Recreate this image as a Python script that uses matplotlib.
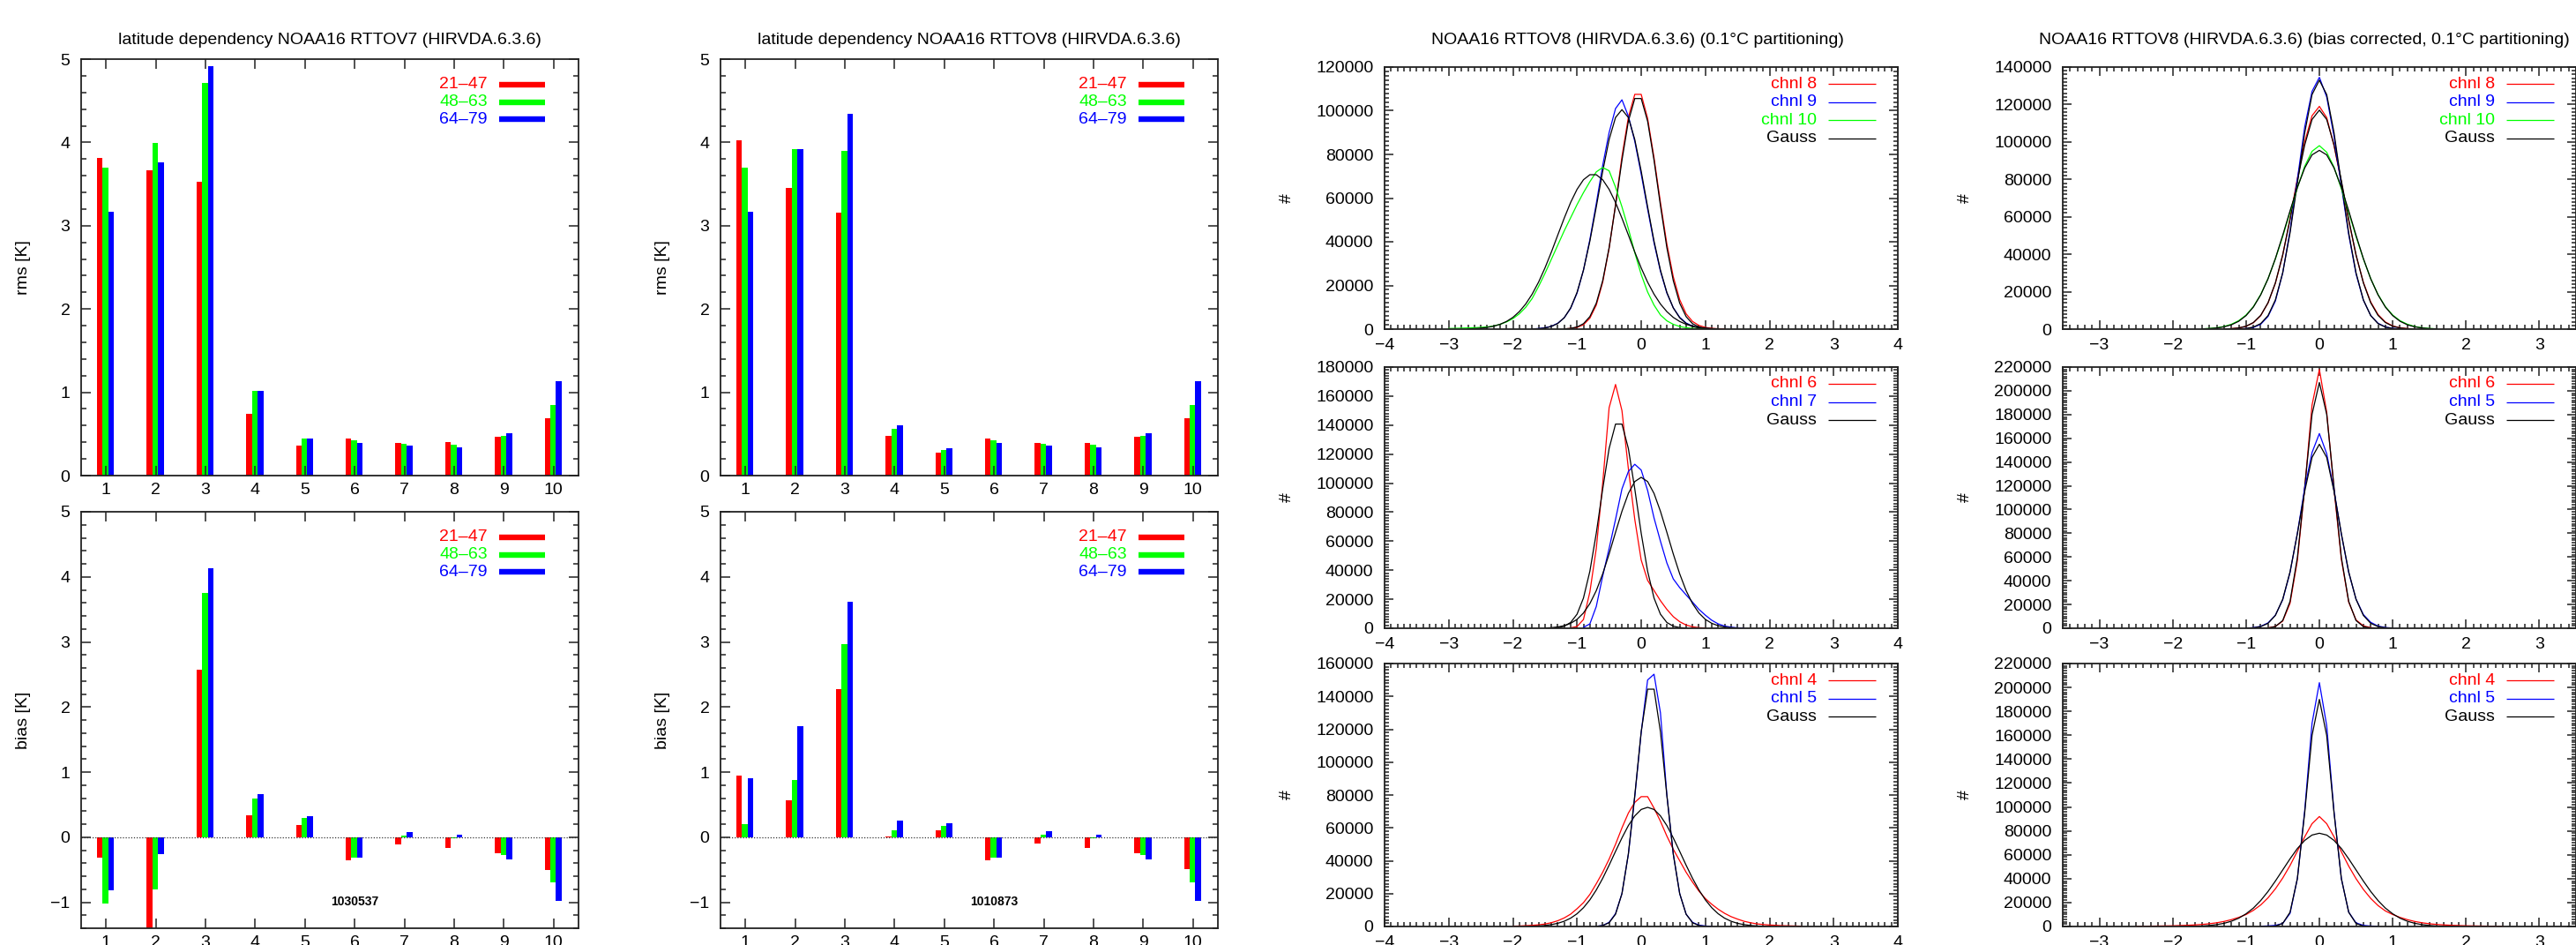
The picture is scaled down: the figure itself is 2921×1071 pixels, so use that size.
import numpy as np
import matplotlib
matplotlib.use("Agg")
import matplotlib.pyplot as plt
from matplotlib.ticker import MultipleLocator, AutoMinorLocator

plt.rcParams['font.family'] = ['Liberation Sans', 'DejaVu Sans']

# ---------------- bar chart data (latitude dependency) ----------------
channels = [1, 2, 3, 4, 5, 6, 7, 8, 9, 10]
lat_bands = ['21\u201347', '48\u201363', '64\u201379']

rms7_21 = [3.81, 3.67, 3.53, 0.745, 0.355, 0.44, 0.39, 0.40, 0.465, 0.688]
rms7_48 = [3.70, 3.99, 4.71, 1.02, 0.44, 0.427, 0.38, 0.374, 0.476, 0.846]
rms7_64 = [3.17, 3.76, 4.92, 1.02, 0.446, 0.397, 0.355, 0.336, 0.506, 1.134]

bias7_21 = [-0.32, -1.5, 2.57, 0.334, 0.19, -0.35, -0.11, -0.17, -0.25, -0.50]
bias7_48 = [-1.02, -0.80, 3.75, 0.60, 0.29, -0.32, 0.03, -0.02, -0.28, -0.69]
bias7_64 = [-0.82, -0.26, 4.13, 0.66, 0.316, -0.31, 0.08, 0.04, -0.34, -0.98]

rms8_21 = [4.03, 3.45, 3.16, 0.476, 0.276, 0.44, 0.39, 0.397, 0.465, 0.688]
rms8_48 = [3.70, 3.92, 3.90, 0.563, 0.31, 0.427, 0.38, 0.374, 0.476, 0.846]
rms8_64 = [3.17, 3.92, 4.34, 0.60, 0.33, 0.397, 0.355, 0.336, 0.506, 1.134]

bias8_21 = [0.95, 0.56, 2.27, 0.005, 0.105, -0.35, -0.10, -0.16, -0.25, -0.49]
bias8_48 = [0.20, 0.88, 2.96, 0.11, 0.17, -0.32, 0.04, -0.02, -0.28, -0.69]
bias8_64 = [0.90, 1.70, 3.62, 0.26, 0.21, -0.31, 0.09, 0.04, -0.34, -0.98]

obs_count7 = '1030537'
obs_count8 = '1010873'

# ---------------- histogram data (0.1 K bins) ----------------
# each series: first bin centre, then counts per 0.1 bin
# uncorrected, channels 8/9/10
c8_start, c8_obs = -1.2, [100, 300, 800, 2000, 5000, 11000, 21500, 37000, 57000, 79000, 97000,
                          107500, 107500, 96500, 78500, 58000, 39000, 24000, 13500, 7000, 3500,
                          1700, 800, 350, 150, 60]
c8g_start, c8_gauss = -1.2, [110, 345, 977, 2490, 5730, 11880, 22200, 37300, 56600, 77300, 95200,
                             105600, 105600, 95200, 77300, 56600, 37300, 22200, 11880, 5730, 2490,
                             977, 345, 110]
c9_start, c9_obs = -1.7, [100, 250, 600, 1300, 2700, 5200, 9500, 16500, 27000, 41000, 57500, 75000,
                          90000, 101000, 105000, 97500, 86000, 71000, 55000, 39500, 26500, 16500,
                          9800, 5400, 2800, 1400, 650, 280, 110]
c9g_start, c9_gauss = -1.7, [80, 210, 520, 1210, 2600, 5200, 9700, 16800, 27000, 40300, 56000,
                             72300, 86800, 96900, 100500, 96900, 86800, 72300, 56000, 40300, 27000,
                             16800, 9700, 5200, 2600, 1210, 520, 210, 80]
c10_start, c10_obs = -3.0, [300, 350, 450, 550, 650, 800, 1000, 1400, 2200, 3300, 4800, 7000, 10000,
                            14000, 19500, 25500, 32000, 38500, 45000, 51000, 57000, 62500, 67500,
                            72000, 74000, 72500, 65000, 56000, 46000, 35000, 25000, 17000, 11000,
                            6500, 3800, 2200, 1200, 650, 330, 160, 80]
c10g_start, c10_gauss = -2.7, [130, 250, 450, 790, 1340, 2200, 3500, 5370, 8000, 11500, 16000,
                               21500, 28000, 35300, 43100, 50800, 58000, 64000, 68400, 70700,
                               70700, 68400, 64000, 58000, 50800, 43100, 35300, 28000, 21500, 16000,
                               11500, 8000, 5370, 3500, 2200, 1340, 790, 450, 250, 130]
# uncorrected, channels 6/7
c6_start, c6_obs = -1.1, [300, 1200, 6000, 25000, 55000, 100000, 152000, 168000, 150000, 110000,
                          75000, 47000, 33000, 26000, 19000, 13000, 8000, 4500, 2200, 1000, 400, 150]
c6g_start, c6_gauss = -1.4, [130, 450, 1430, 3960, 9670, 20800, 39300, 65500, 96000, 123900,
                             140700, 140700, 123900, 96000, 65500, 39300, 20800, 9670, 3960, 1430,
                             450, 130]
c7_start, c7_obs = -0.9, [600, 3000, 15000, 36000, 55000, 75000, 96000, 108000, 113000, 109000,
                          95000, 76000, 60000, 45000, 34000, 28000, 23000, 18000, 13000, 9000, 5500,
                          3000, 1500, 700, 300, 100]
c7g_start, c7_gauss = -1.5, [177, 400, 860, 1750, 3370, 6100, 10500, 17000, 25900, 37500, 51200,
                             66100, 80600, 92900, 101100, 104000, 101100, 92900, 80600, 66100,
                             51200, 37500, 25900, 17000, 10500, 6100, 3370, 1750, 860, 400, 177]
# uncorrected, channels 4/5
c4_start, c4_obs = -2.0, [200, 300, 500, 700, 1000, 1500, 2300, 3500, 5200, 7500, 10800, 14500,
                          19500, 26000, 33000, 41000, 50000, 60000, 69000, 75500, 79000, 79000,
                          72000, 64000, 55000, 47000, 40000, 33000, 27000, 21500, 17000, 13500,
                          10500, 8000, 6000, 4500, 3200, 2300, 1600, 1200, 900, 700, 500, 400,
                          300, 200]
c4g_start, c4_gauss = -1.8, [90, 180, 350, 640, 1130, 1930, 3180, 5050, 7740, 11400, 16200, 22200,
                             29300, 37300, 45700, 53900, 61400, 67300, 71200, 72500, 71200, 67300,
                             61400, 53900, 45700, 37300, 29300, 22200, 16200, 11400, 7740, 5050,
                             3180, 1930, 1130, 640, 350, 180, 90]
c5_start, c5_obs = -0.7, [100, 600, 2500, 7800, 20000, 44000, 79000, 118000, 150000, 153500,
                          130000, 80000, 44000, 20000, 7500, 2500, 800, 300, 100]
c5g_start, c5_gauss = -0.7, [120, 570, 2280, 7460, 20000, 44100, 79800, 118500, 144400, 144400,
                             118500, 79800, 44100, 20000, 7460, 2280, 570, 120]

# bias corrected, channels 8/9/10
b8_start, b8_obs = -1.3, [100, 250, 600, 1500, 3400, 7200, 14000, 24500, 39500, 59000, 80500,
                          100000, 114000, 119000, 113000, 98000, 78500, 58000, 39500, 25000, 14500,
                          7800, 3800, 1700, 700, 280, 100]
b8g_start, b8_gauss = -1.3, [80, 230, 620, 1550, 3520, 7350, 14100, 24700, 39700, 58600, 79300,
                             98400, 112000, 117000, 112000, 98400, 79300, 58600, 39700, 24700,
                             14100, 7350, 3520, 1550, 620, 230, 80]
b9_start, b9_obs = -1.1, [100, 300, 900, 2600, 6800, 15000, 30000, 52500, 80000, 108000, 127000,
                          134500, 124000, 103000, 76500, 50500, 29500, 15500, 7300, 3100, 1200,
                          400, 120]
b9g_start, b9_gauss = -1.1, [100, 350, 1080, 2960, 7220, 15600, 30100, 51400, 77900, 104900,
                             125300, 133000, 125300, 104900, 77900, 51400, 30100, 15600, 7220,
                             2960, 1080, 350, 100]
b10_start, b10_obs = -1.6, [150, 350, 700, 1400, 2600, 4500, 7500, 12000, 18500, 27000, 37500,
                            49500, 62500, 75500, 87000, 95000, 98000, 94500, 86500, 75000, 62500,
                            49500, 37500, 27000, 18500, 12000, 7500, 4500, 2600, 1400, 700, 350, 150]
b10g_start, b10_gauss = -1.6, [130, 286, 600, 1210, 2320, 4190, 7220, 11800, 18300, 26900, 37700,
                               50100, 63200, 75700, 86100, 93100, 95500, 93100, 86100, 75700,
                               63200, 50100, 37700, 26900, 18300, 11800, 7220, 4190, 2320, 1210,
                               600, 286, 130]
# bias corrected, channels 6/5
b6_start, b6_obs = -0.8, [50, 300, 1500, 6000, 21000, 57000, 118000, 188000, 218000, 182000,
                          117000, 58000, 22000, 7000, 2000, 500, 100]
b6g_start, b6_gauss = -0.8, [30, 230, 1410, 6490, 22600, 59500, 119000, 180200, 207000, 180200,
                             119000, 59500, 22600, 6490, 1410, 230, 30]
b5m_start, b5m_obs = -1.0, [150, 500, 1600, 4500, 11000, 24000, 47000, 80000, 118000, 148000,
                            164000, 147000, 116000, 79000, 47000, 24500, 11500, 5000, 1800, 600, 200]
b5mg_start, b5m_gauss = -1.0, [95, 390, 1360, 4140, 10800, 24400, 47500, 79700, 115300, 143900,
                               155000, 143900, 115300, 79700, 47500, 24400, 10800, 4140, 1360,
                               390, 95]
# bias corrected, channels 4/5
b4_start, b4_obs = -2.5, [200, 250, 300, 400, 500, 600, 800, 1000, 1300, 1700, 2300, 3100, 4200,
                          5700, 7600, 10000, 13500, 18000, 24000, 31500, 40500, 51000, 63000, 75000,
                          86000, 92000, 86000, 75000, 62500, 50500, 40000, 31000, 23500, 17500,
                          13000, 10000, 7600, 5700, 4200, 3100, 2300, 1700, 1300, 1000, 800, 600,
                          500, 400, 300, 250, 200]
b4g_start, b4_gauss = -1.9, [55, 120, 240, 465, 870, 1550, 2650, 4380, 6930, 10600, 15400, 21700,
                             29300, 38000, 47300, 56600, 65200, 72000, 76500, 78000, 76500, 72000,
                             65200, 56600, 47300, 38000, 29300, 21700, 15400, 10600, 6930, 4380,
                             2650, 1550, 870, 465, 240, 120, 55]
b5_start, b5_obs = -0.8, [200, 500, 900, 2500, 11000, 40000, 97000, 170000, 204000, 168000, 96000,
                          40000, 12000, 3000, 900, 400, 150]
b5g_start, b5_gauss = -0.7, [40, 375, 2510, 11900, 40100, 95100, 159800, 190000, 159800, 95100,
                             40100, 11900, 2510, 375, 40]

RED, GREEN, BLUE = '#ff0000', '#00ff00', '#0000ff'
W, H = 2921, 1071
fig = plt.figure(figsize=(W / 100, H / 100), dpi=100)


def add_ax(x0, y0, x1, y1):
    return fig.add_axes([x0 / W, 1 - y1 / H, (x1 - x0) / W, (y1 - y0) / H])


def bins(start, vals):
    return np.round(start + 0.1 * np.arange(len(vals)), 2)


def frame(ax):
    for s in ax.spines.values():
        s.set_linewidth(1.3)
        s.set_color('#222222')
    ax.tick_params(which='both', direction='in', top=True, right=True, width=1.1, color='#222222')


def key(ax, labels, colors, lw, xt, xa, xb, ytop, dy, fs=14):
    for i, (lab, c) in enumerate(zip(labels, colors)):
        y = ytop - i * dy
        ax.text(xt, y, lab, color=c, fontsize=fs, ha='right', va='center', transform=ax.transAxes)
        ax.plot([xa, xb], [y, y], color=c, lw=lw, transform=ax.transAxes, solid_capstyle='butt',
                clip_on=False)


def bar_panel(ax, s21, s48, s64, ylim, ylabel, note=None):
    x = np.array(channels)
    for vals, c, off in zip([s21, s48, s64], [RED, GREEN, BLUE], [-0.125, -0.01, 0.105]):
        ax.bar(x + off, vals, width=0.115, color=c, edgecolor='none')
    ax.set_xlim(0.5, 10.5)
    ax.set_ylim(*ylim)
    ax.set_xticks(channels)
    ax.yaxis.set_major_locator(MultipleLocator(1))
    ax.yaxis.set_minor_locator(MultipleLocator(0.2))
    frame(ax)
    ax.tick_params(which='major', length=8, labelsize=14)
    ax.tick_params(axis='x', which='major', pad=6)
    ax.tick_params(axis='y', which='major', pad=9)
    ax.tick_params(which='minor', length=4)
    ax.set_ylabel(ylabel, fontsize=14)
    ax.yaxis.set_label_coords(-0.101, 0.5)
    key(ax, lat_bands, [RED, GREEN, BLUE], 4.6, 0.817, 0.840, 0.933, 0.939, 0.042)
    if note is not None:
        ax.axhline(0, color='#333333', lw=0.9, ls=(0, (1, 1.5)))
        ax.text(6, -1.0, note, fontsize=10, fontweight='bold', ha='center', va='center')


def hist_panel(ax, series, labels, colors, xlim, ylim, ystep):
    for (start, vals), c in series:
        ax.plot(bins(start, vals), vals, color=c, lw=0.9)
    ax.set_xlim(*xlim)
    ax.set_ylim(0, ylim)
    ax.xaxis.set_major_locator(MultipleLocator(1))
    ax.xaxis.set_minor_locator(MultipleLocator(0.1))
    ax.yaxis.set_major_locator(MultipleLocator(ystep))
    ax.yaxis.set_minor_locator(AutoMinorLocator(10))
    frame(ax)
    ax.tick_params(which='major', length=7, labelsize=14)
    ax.tick_params(axis='x', which='major', pad=7)
    ax.tick_params(axis='y', which='major', pad=9)
    ax.tick_params(which='minor', length=3.5)
    ax.set_ylabel('#', fontsize=14)
    ax.yaxis.set_label_coords(-0.175, 0.5)
    key(ax, labels, colors, 0.9, 0.842, 0.864, 0.957, 0.936, 0.0695)


# --- panel A: RTTOV7 bars
a1 = add_ax(92, 67, 656, 539)
bar_panel(a1, rms7_21, rms7_48, rms7_64, (0, 5), 'rms [K]')
a2 = add_ax(92, 580, 656, 1052)
bar_panel(a2, bias7_21, bias7_48, bias7_64, (-1.4, 5), 'bias [K]', obs_count7)
fig.text(374 / W, 1 - 46 / H, 'latitude dependency NOAA16 RTTOV7 (HIRVDA.6.3.6)',
         fontsize=14, ha='center', va='center')

# --- panel B: RTTOV8 bars
b1 = add_ax(817, 67, 1381, 539)
bar_panel(b1, rms8_21, rms8_48, rms8_64, (0, 5), 'rms [K]')
b2 = add_ax(817, 580, 1381, 1052)
bar_panel(b2, bias8_21, bias8_48, bias8_64, (-1.4, 5), 'bias [K]', obs_count8)
fig.text(1099 / W, 1 - 46 / H, 'latitude dependency NOAA16 RTTOV8 (HIRVDA.6.3.6)',
         fontsize=14, ha='center', va='center')

# --- panel C: uncorrected departure histograms
rows = [(76, 373), (416, 712), (752, 1050)]
cx0, cx1 = 1570, 2152
h1 = add_ax(cx0, rows[0][0], cx1, rows[0][1])
hist_panel(h1, [((c8_start, c8_obs), RED), ((c8g_start, c8_gauss), 'black'),
                ((c9_start, c9_obs), BLUE), ((c9g_start, c9_gauss), 'black'),
                ((c10_start, c10_obs), GREEN), ((c10g_start, c10_gauss), 'black')],
           ['chnl 8', 'chnl 9', 'chnl 10', 'Gauss'], [RED, BLUE, GREEN, 'black'],
           (-4, 4), 120000, 20000)
h2 = add_ax(cx0, rows[1][0], cx1, rows[1][1])
hist_panel(h2, [((c6_start, c6_obs), RED), ((c6g_start, c6_gauss), 'black'),
                ((c7_start, c7_obs), BLUE), ((c7g_start, c7_gauss), 'black')],
           ['chnl 6', 'chnl 7', 'Gauss'], [RED, BLUE, 'black'], (-4, 4), 180000, 20000)
h3 = add_ax(cx0, rows[2][0], cx1, rows[2][1])
hist_panel(h3, [((c4_start, c4_obs), RED), ((c4g_start, c4_gauss), 'black'),
                ((c5_start, c5_obs), BLUE), ((c5g_start, c5_gauss), 'black')],
           ['chnl 4', 'chnl 5', 'Gauss'], [RED, BLUE, 'black'], (-4, 4), 160000, 20000)
fig.text(1857 / W, 1 - 45 / H, 'NOAA16 RTTOV8 (HIRVDA.6.3.6) (0.1\u00b0C partitioning)',
         fontsize=14, ha='center', va='center')

# --- panel D: bias corrected histograms
dx0, dx1 = 2339, 2921
d1 = add_ax(dx0, rows[0][0], dx1, rows[0][1])
hist_panel(d1, [((b8_start, b8_obs), RED), ((b8g_start, b8_gauss), 'black'),
                ((b9_start, b9_obs), BLUE), ((b9g_start, b9_gauss), 'black'),
                ((b10_start, b10_obs), GREEN), ((b10g_start, b10_gauss), 'black')],
           ['chnl 8', 'chnl 9', 'chnl 10', 'Gauss'], [RED, BLUE, GREEN, 'black'],
           (-3.5, 3.5), 140000, 20000)
d2 = add_ax(dx0, rows[1][0], dx1, rows[1][1])
hist_panel(d2, [((b6_start, b6_obs), RED), ((b6g_start, b6_gauss), 'black'),
                ((b5m_start, b5m_obs), BLUE), ((b5mg_start, b5m_gauss), 'black')],
           ['chnl 6', 'chnl 5', 'Gauss'], [RED, BLUE, 'black'], (-3.5, 3.5), 220000, 20000)
d3 = add_ax(dx0, rows[2][0], dx1, rows[2][1])
hist_panel(d3, [((b4_start, b4_obs), RED), ((b4g_start, b4_gauss), 'black'),
                ((b5_start, b5_obs), BLUE), ((b5g_start, b5_gauss), 'black')],
           ['chnl 4', 'chnl 5', 'Gauss'], [RED, BLUE, 'black'], (-3.5, 3.5), 220000, 20000)
fig.text(2312 / W, 1 - 45 / H,
         'NOAA16 RTTOV8 (HIRVDA.6.3.6) (bias corrected, 0.1\u00b0C partitioning)',
         fontsize=14, ha='left', va='center')

fig.savefig('out.png', dpi=100)
